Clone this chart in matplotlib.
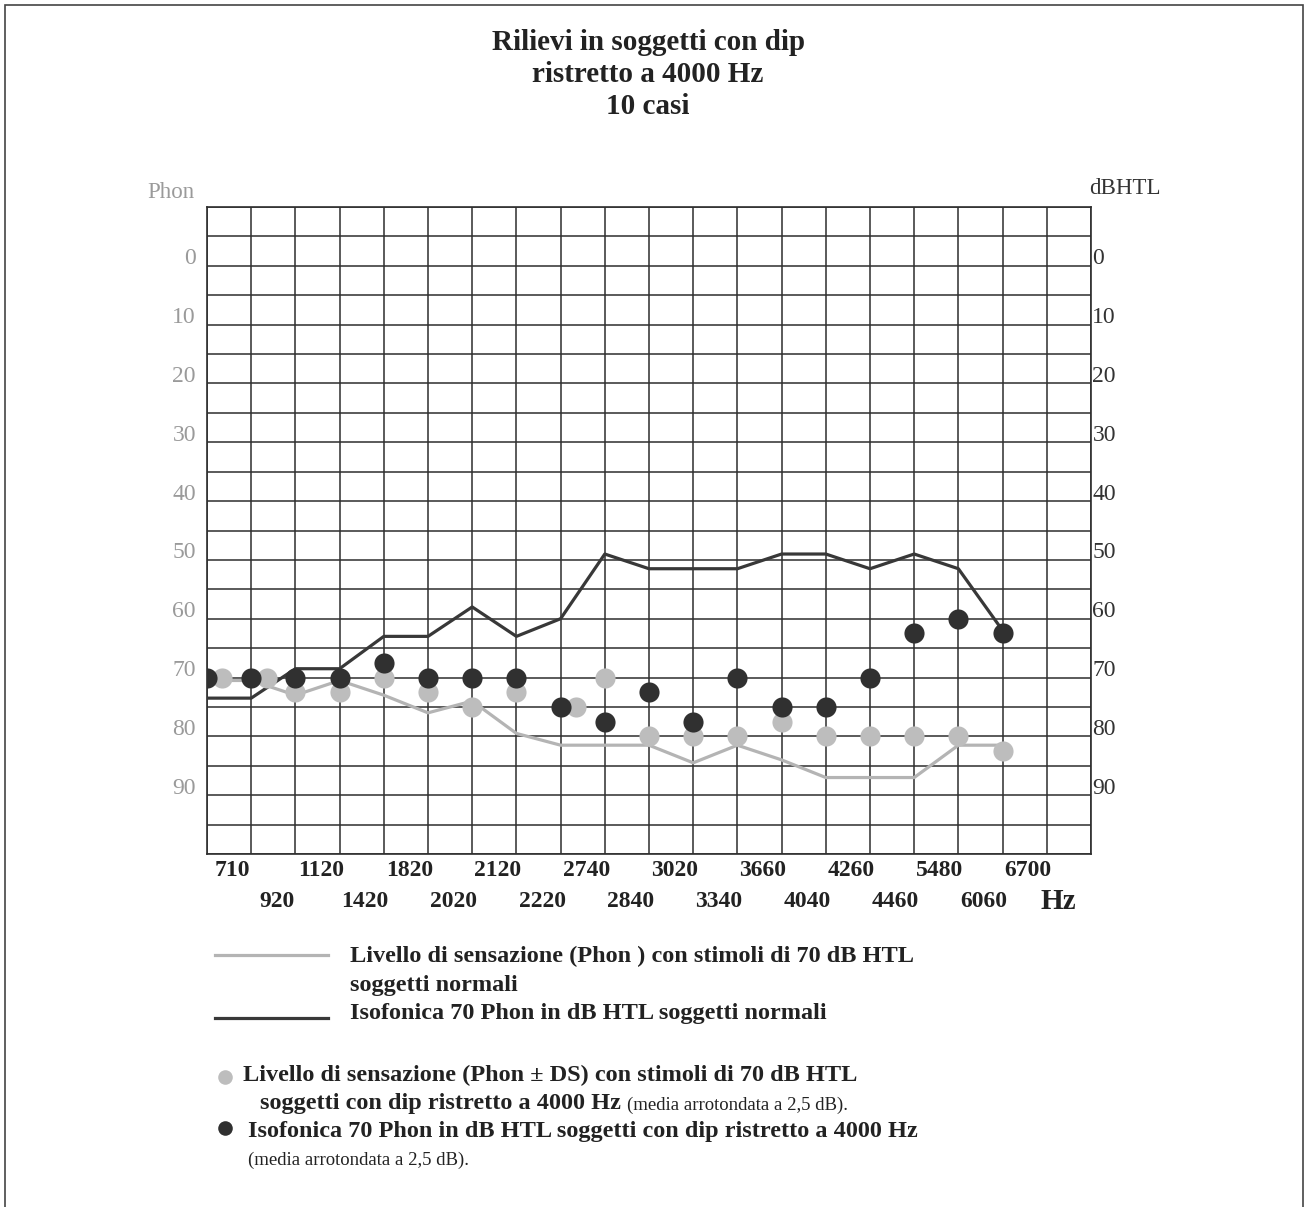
import numpy as np
import matplotlib
matplotlib.use("Agg")
import matplotlib.pyplot as plt
from matplotlib.lines import Line2D
from matplotlib.patches import Rectangle

plt.rcParams['font.family'] = ['Liberation Serif', 'DejaVu Serif']

# Frequencies (Hz) along the grid, one per vertical line
freq_labels = ["710", "920", "1120", "1420", "1820", "2020", "2120", "2220", "2740",
               "2840", "3020", "3340", "3660", "4040", "4260", "4460", "5480", "6060", "6700"]

# Normal subjects: sensation level (Phon) with 70 dB HTL stimuli
normal_sensation = [70.5, 70.5, 73, 70.5, 73, 76, 74, 79.5, 81.5, 81.5,
                    81.5, 84.5, 81.5, 84, 87, 87, 87, 81.5, 81.5]
# Normal subjects: 70 Phon isophonic curve in dB HTL
normal_isophon = [73.5, 73.5, 68.5, 68.5, 63, 63, 58, 63, 60, 49,
                  51.5, 51.5, 51.5, 49, 49, 51.5, 49, 51.5, 62]
# Subjects with narrow 4000 Hz dip (mean rounded to 2.5 dB)
dip_sensation = [70, 70, 72.5, 72.5, 70, 72.5, 75, 72.5, 75, 70,
                 80, 80, 80, 77.5, 80, 80, 80, 80, 82.5]
dip_isophon = [70, 70, 70, 70, 67.5, 70, 70, 70, 75, 77.5,
               72.5, 77.5, 70, 75, 75, 70, 62.5, 60, 62.5]

y_ticks = [0, 10, 20, 30, 40, 50, 60, 70, 80, 90]

W, H = 1306, 1207
fig = plt.figure(figsize=(W / 100, H / 100), dpi=100)


def fx(x):
    return x / W


def fy(y):
    return 1 - y / H


# page frame
fig.add_artist(Rectangle((fx(5), -0.01), fx(1298), fy(5) + 0.01,
                         transform=fig.transFigure, fill=False, edgecolor='#444444', lw=1.2))

ax = fig.add_axes([fx(207), fy(854), fx(884), (854 - 207) / H])
ax.set_facecolor('white')

x = np.arange(len(freq_labels))
grid_color = '#2e2e2e'

ax.set_xlim(0, 20)
ax.set_ylim(100, -10)
for gx in range(0, 21):
    ax.axvline(gx, color=grid_color, lw=1.1, zorder=1)
for gy in range(-10, 101, 5):
    ax.axhline(gy, color=grid_color, lw=1.1, zorder=1)
for s in ax.spines.values():
    s.set_color(grid_color)
    s.set_linewidth(1.2)
ax.set_xticks([])
ax.set_yticks([])

# normal-subject curves
ax.plot(x, normal_sensation, color='#b4b4b4', lw=2.3, zorder=3)
ax.plot(x, normal_isophon, color='#383838', lw=2.3, zorder=4)

# dip subjects: shift the grey dot aside where the two dots coincide
sens = np.array(dip_sensation)
iso = np.array(dip_isophon)
dodge = np.where(sens == iso, 0.35, 0.0)
ax.plot(x + dodge, sens, 'o', color='#bdbdbd', ms=14.5, mec='none', zorder=5)
ax.plot(x, iso, 'o', color='#303030', ms=14.5, mec='none', zorder=6)

# frequency labels on two staggered rows
xt = ax.get_xaxis_transform()
for i, lab in enumerate(freq_labels):
    yy = -0.025 if i % 2 == 0 else -0.074
    ax.text(i + 0.58, yy, lab, transform=xt, ha='center', va='center',
            fontsize=17, fontweight='bold', color='#222222')
ax.text(19.25, -0.074, "Hz", transform=xt, ha='center', va='center',
        fontsize=21, fontweight='bold', color='#222222')

# dB scales on both sides
yt = ax.get_yaxis_transform()
for v in y_ticks:
    ax.annotate(str(v), (0, v), xycoords=yt, xytext=(-8, 5), textcoords='offset points',
                ha='right', va='center', fontsize=17, color='#9a9a9a')
    ax.annotate(str(v), (1, v), xycoords=yt, xytext=(1, 5), textcoords='offset points',
                ha='left', va='center', fontsize=17, color='#333333')
fig.text(fx(171), fy(192), "Phon", ha='center', va='center', fontsize=16.5, color='#9a9a9a')
fig.text(fx(1089), fy(188), "dBHTL", ha='left', va='center', fontsize=16.5, color='#333333')

# title
title_lines = ["Rilievi in soggetti con dip", "ristretto a 4000 Hz", "10 casi"]
for k, t in enumerate(title_lines):
    fig.text(fx(648), fy(43 + 32 * k), t, ha='center', va='center',
             fontsize=21, fontweight='bold', color='#222222')

# legend
lg = dict(fontsize=17.5, fontweight='bold', color='#222222', va='center', ha='left')
note = dict(fontsize=13.5, color='#222222', va='center', ha='left')
fig.add_artist(Line2D([fx(215), fx(328)], [fy(955), fy(955)], transform=fig.transFigure,
                      color='#b4b4b4', lw=2.3))
fig.text(fx(350), fy(956), "Livello di sensazione (Phon ) con stimoli di 70 dB HTL", **lg)
fig.text(fx(350), fy(985), "soggetti normali", **lg)
fig.add_artist(Line2D([fx(215), fx(328)], [fy(1018), fy(1018)], transform=fig.transFigure,
                      color='#383838', lw=2.3))
fig.text(fx(350), fy(1013), "Isofonica 70 Phon in dB HTL soggetti normali", **lg)

fig.add_artist(Line2D([fx(225)], [fy(1077)], transform=fig.transFigure, marker='o',
                      ms=10.5, color='#bdbdbd', mec='none', lw=0))
fig.text(fx(243), fy(1075), "Livello di sensazione (Phon \u00b1 DS) con stimoli di 70 dB HTL", **lg)
t_dip = fig.text(fx(260), fy(1103), "soggetti con dip ristretto a 4000 Hz", **lg)
fig.add_artist(Line2D([fx(225)], [fy(1128)], transform=fig.transFigure, marker='o',
                      ms=10.5, color='#303030', mec='none', lw=0))
fig.text(fx(248), fy(1132), "Isofonica 70 Phon in dB HTL soggetti con dip ristretto a 4000 Hz", **lg)
fig.text(fx(248), fy(1160), "(media arrotondata a 2,5 dB).", **note)

# small note placed right after the bold line
fig.canvas.draw()
bb = t_dip.get_window_extent()
fig.text(fx(bb.x1 + 6), fy(1105), "(media arrotondata a 2,5 dB).", **note)

plt.savefig("out.png", dpi=100)
